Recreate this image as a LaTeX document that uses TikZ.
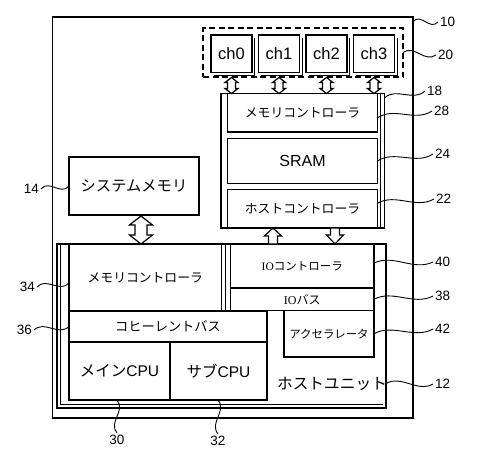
\documentclass[tikz,border=0pt]{standalone}
\usepackage{fontspec}
\setmainfont{Liberation Sans}
\newfontfamily\jp{Noto Sans CJK JP}
\newfontfamily\lser{Liberation Serif}
\usetikzlibrary{calc}
\newcommand\fs[1]{\fontsize{#1}{#1}\selectfont}
% double-headed hollow arrow: top, bottom, gap, half head, half shaft, head length
\newcommand\myDbl[6]{%
 \draw[blk] let \p1=(#1), \p2=(#2) in
 (\x1,\y1-#3pt) -- (\x1+#4pt,\y1-#3pt-#6pt) -- (\x1+#5pt,\y1-#3pt-#6pt) -- (\x1+#5pt,\y2+#6pt) -- (\x1+#4pt,\y2+#6pt) -- (\x1,\y2) -- (\x1-#4pt,\y2+#6pt) -- (\x1-#5pt,\y2+#6pt) -- (\x1-#5pt,\y1-#3pt-#6pt) -- (\x1-#4pt,\y1-#3pt-#6pt) -- cycle;}
\newcommand\myUp[5]{%
 \draw[blk] let \p1=(#1), \p2=(#2) in (\x1,\y1) -- (\x1+#3pt,\y1-#5pt) -- (\x1+#4pt,\y1-#5pt) -- (\x1+#4pt,\y2) -- (\x1-#4pt,\y2) -- (\x1-#4pt,\y1-#5pt) -- (\x1-#3pt,\y1-#5pt) -- cycle;}
\newcommand\myDown[5]{%
 \draw[blk] let \p1=(#1), \p2=(#2) in (\x1,\y2) -- (\x1+#3pt,\y2+#5pt) -- (\x1+#4pt,\y2+#5pt) -- (\x1+#4pt,\y1) -- (\x1-#4pt,\y1) -- (\x1-#4pt,\y2+#5pt) -- (\x1-#3pt,\y2+#5pt) -- cycle;}
\newcommand\wv[2]{\draw[lead] (#1) .. controls ($(#1)!0.33!(#2)!9pt!90:(#2)$) and ($(#1)!0.67!(#2)!9pt!-90:(#2)$) .. (#2);}
\begin{document}
\begin{tikzpicture}[x=1pt,y=-1pt,
 box/.style={draw, line width=1.2pt, inner sep=0pt, outer sep=0pt, rectangle, align=center},
 chbox/.style={box, minimum width=41pt, minimum height=37.5pt, font=\fs{16.5}},
 lab/.style={inner sep=2pt, font=\fs{13.5}},
 lead/.style={line width=0.9pt},
 blk/.style={draw, line width=1.2pt, fill=white, line join=miter},
 thinline/.style={line width=1pt}
]
\useasboundingbox (0,0) rectangle (480,466);
\fill[white] (0,0) rectangle (480,466);

% outer device 10
\node[box, minimum width=360.5pt, minimum height=401pt] (o10) at (232.75,217.5) {};
% channel group 20
\node[draw, dash pattern=on 6pt off 3.5pt, line width=1.4pt, minimum width=200pt, minimum height=49pt, inner sep=0pt, outer sep=0pt] (d20) at (303,52.5) {};
\foreach \i/\x in {0/231.5,1/279,2/326.5,3/374} {
 \node[chbox] (ch\i) at (\x,53.75) {ch\i};
 \draw[thinline] ([xshift=2.5pt,yshift=-2.5pt]ch\i.north east) -- ([xshift=2.5pt,yshift=-2.5pt]ch\i.south east) -- ([xshift=2.5pt,yshift=-2.5pt]ch\i.south west);
}

% controller 18
\node[box, line width=1.4pt, minimum width=163.5pt, minimum height=134.5pt] (m18) at (302.75,160.75) {};
\draw[thinline] ([xshift=-4pt]m18.north east) -- ([xshift=-4pt]m18.south east);
\node[box, minimum width=150pt, minimum height=38.5pt, font=\jp\fs{12.8}] (m28) at (302.5,112.75) {メモリコントローラ};
\node[box, minimum width=150pt, minimum height=45pt, font=\fs{16}] (m24) at (302.5,161) {SRAM};
\node[box, minimum width=150pt, minimum height=38.5pt, font=\jp\fs{12.8}] (m22) at (302.5,208.75) {ホストコントローラ};

\foreach \i in {0,1,2,3} {
 \myDbl{ch\i.south}{ch\i.south |- m18.north}{5}{6.5}{4}{5}
}

% system memory 14
\node[box, minimum width=130pt, minimum height=58pt, font=\jp\fs{15.3}] (m14) at (134,186) {システムメモリ};

% host unit 12
\node[box, line width=2pt, minimum width=329pt, minimum height=164pt] (m12) at (221.5,326) {};
\draw[thinline] ([xshift=3.5pt]m12.north west) -- ([xshift=3.5pt,yshift=3.5pt]m12.south west) -- ([xshift=-3pt,yshift=3.5pt]m12.south east);
\node[box, minimum width=152.5pt, minimum height=67pt, font=\jp\fs{12.8}] (m34) at (145.25,277.5) {メモリコントローラ};
\draw[thinline] ([xshift=4pt]m34.north east) -- ([xshift=4pt]m34.south east);
\node[box, minimum width=198pt, minimum height=31pt, font=\jp\fs{13.2}] (m36) at (168,326.5) {コヒーレントバス};
\node[box, minimum width=101pt, minimum height=58pt, font=\fs{15.5}] (m30) at (119.5,371) {{\jp メイン}CPU};
\node[box, minimum width=97pt, minimum height=58pt, font=\fs{15.5}] (m32) at (218.5,371) {{\jp サブ}CPU};
\node[box, minimum width=143.5pt, minimum height=44pt, font=\fs{11.5}] (m40) at (302.25,266) {{\lser IO}{\jp コントローラ}};
\node[box, minimum width=143.5pt, minimum height=22.5pt, font=\fs{12}] (m38) at (302.25,299.25) {{\lser IO}{\jp バス}};
\node[box, minimum width=90pt, minimum height=46.5pt, font=\jp\fs{11.4}] (m42) at (329,333.75) {アクセラレータ};
\node[font=\jp\fs{15.7}, inner sep=0pt] (t12) at (332,383.5) {ホストユニット};

% arrows
\coordinate (ax) at (141,230);
\myDbl{ax |- m14.south}{ax |- m34.north}{1}{11.5}{6}{9}
\coordinate (ux) at (273,236);
\coordinate (dx) at (335,236);
\myUp{ux |- m22.south}{ux |- m40.north}{8.5}{4.5}{8}
\myDown{dx |- m22.south}{dx |- m40.north}{8.5}{4.5}{9}

% reference labels
\node[lab, anchor=west] (l10) at (438,22) {10};
\node[lab, anchor=west] (l20) at (436,55) {20};
\node[lab, anchor=west] (l18) at (425,91) {18};
\node[lab, anchor=west] (l28) at (432,111) {28};
\node[lab, anchor=west] (l24) at (433,154) {24};
\node[lab, anchor=west] (l22) at (434,199) {22};
\node[lab, anchor=west] (l40) at (433,262) {40};
\node[lab, anchor=west] (l38) at (433,296) {38};
\node[lab, anchor=west] (l42) at (433,329) {42};
\node[lab, anchor=west] (l12) at (433,384) {12};
\node[lab, anchor=east] (l14) at (41,189) {14};
\node[lab, anchor=east] (l34) at (37,287) {34};
\node[lab, anchor=east] (l36) at (34,330) {36};
\node[lab, anchor=north] (l30) at (117,433) {30};
\node[lab, anchor=north] (l32) at (218,434) {32};

\coordinate (s10) at ([yshift=-4.5pt]o10.north east);
\coordinate (s18) at ([yshift=-4.5pt]m18.north east);
\coordinate (s28) at ([yshift=-5pt]m28.east);
\coordinate (s22) at ([yshift=5.5pt]m22.east);
\coordinate (s40) at ([yshift=3pt]m40.east);
\coordinate (s12) at (m12.east |- t12.center);
\coordinate (s34) at ([yshift=-5.5pt]m34.west);
\coordinate (s30) at ([xshift=-2.5pt]m30.south);
\coordinate (s32) at ([xshift=-0.5pt]m32.south);

\wv{s10}{l10.west}
\wv{d20.east}{l20.west}
\wv{s18}{l18.west}
\wv{s28}{l28.west}
\wv{m24.east}{l24.west}
\wv{s22}{l22.west}
\wv{s40}{l40.west}
\wv{m38.east}{l38.west}
\wv{m42.east}{l42.west}
\wv{s12}{l12.west}
\wv{l14.east}{m14.west}
\wv{l34.east}{s34}
\wv{l36.east}{m36.west}
\wv{s30}{l30.north}
\wv{s32}{l32.north}
\end{tikzpicture}
\end{document}
